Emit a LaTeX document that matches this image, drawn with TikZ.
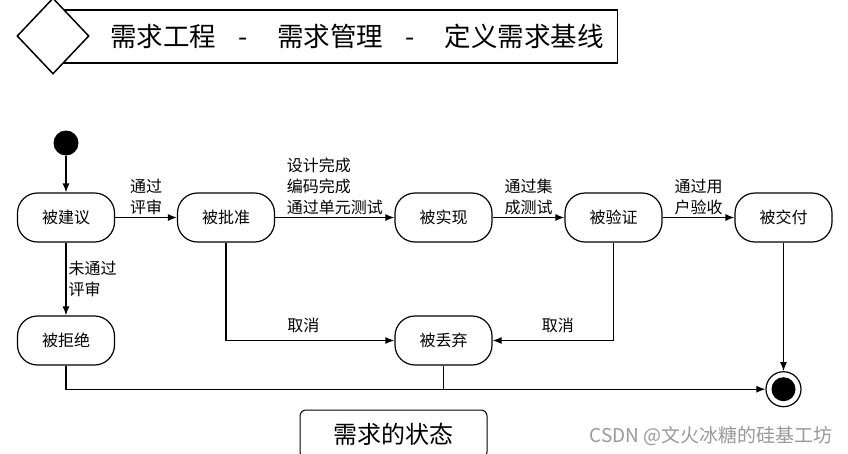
\documentclass[tikz,border=0pt]{standalone}
\usepackage{fontspec}
\setmainfont{Noto Sans CJK SC}
\usetikzlibrary{arrows.meta,positioning,shapes.geometric}

\begin{document}
\begin{tikzpicture}[x=1pt,y=-1pt,
  node distance=72.8pt,
  block/.style={rectangle,draw,line width=1.2pt,rounded corners=20pt,minimum width=97pt,minimum height=49pt,font=\fontsize{16}{20}\selectfont},
  lbl/.style={align=left,inner sep=2pt,font=\fontsize{16}{21}\selectfont},
  arrow/.style={-{Latex[length=9pt,width=7pt]},line width=1.2pt}]
\useasboundingbox (0,0) rectangle (848,453);
% title bar
\node[draw,line width=1.2pt,anchor=west,minimum height=53pt,text width=526pt,inner xsep=14pt,align=right,font=\fontsize{26.5}{30}\selectfont] (title) at (63,36.5)
  {需求工程\hspace{22pt}-\hspace{30pt}需求管理\hspace{22pt}-\hspace{30pt}定义需求基线};
\node[diamond,draw,fill=white,line width=1.5pt,minimum width=72pt,minimum height=76pt,inner sep=0pt] (mark) at (53,36) {};
% states
\node[circle,fill=black,minimum size=25pt,inner sep=0pt] (start) at (66,143) {};
\node[block] (b1) at (66,217.5) {被建议};
\node[block,right=61.8pt of b1] (b2) {被批准};
\node[block,right=119.3pt of b2] (b3) {被实现};
\node[block,right=71.8pt of b3] (b4) {被验证};
\node[block,right=71.8pt of b4] (b5) {被交付};
\node[block,below=of b1] (b6) {被拒绝};
\node[block,below=of b3] (b7) {被丢弃};
\node[circle,draw,line width=1.2pt,minimum size=35pt,inner sep=0pt,below=128.5pt of b5,
  path picture={\fill[black] (path picture bounding box.center) circle[radius=12pt];}] (stop) {};
% transitions
\draw[arrow] (start)--(b1);
\draw[arrow] (b1)-- node[lbl,above] {通过\\评审} (b2);
\draw[arrow] (b2)-- node[lbl,above] {设计完成\\编码完成\\通过单元测试} (b3);
\draw[arrow] (b3)-- node[lbl,above] {通过集\\成测试} (b4);
\draw[arrow] (b4)-- node[lbl,above] {通过用\\户验收} (b5);
\draw[arrow] (b1)-- node[lbl,right] {未通过\\评审} (b6);
\draw[arrow] (b2)|- node[lbl,above=5pt,pos=.73] {取消} (b7);
\draw[arrow] (b4)|- node[lbl,above=5pt,pos=.73] {取消} (b7);
\draw[arrow] (b5)--(stop);
\draw[arrow] (b6)|-(stop);
\draw[line width=1.2pt] (b7)--(b7 |- stop);
% caption and watermark
\node[draw,line width=1pt,rounded corners=6pt,minimum width=187pt,minimum height=48pt,font=\fontsize{24}{28}\selectfont] (legend) at (393.5,434) {需求的状态};
\node[anchor=east,inner sep=0pt,text=black!40,font=\fontsize{19}{22}\selectfont] (wm) at (833,436) {CSDN @文火冰糖的硅基工坊};
\end{tikzpicture}
\end{document}
